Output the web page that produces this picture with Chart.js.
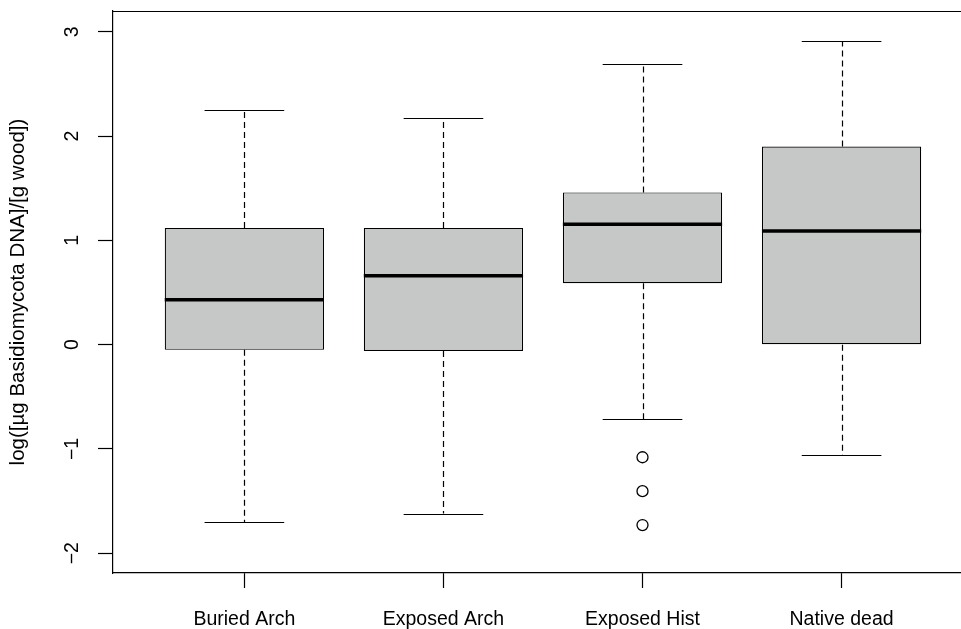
<!DOCTYPE html>
<html>
<head>
<meta charset="utf-8">
<script src="https://cdn.jsdelivr.net/npm/chart.js@4/dist/chart.umd.min.js"></script>
<style>
    html, body { margin: 0; padding: 0; background: #fff; overflow: hidden; }
    #wrap { width: 961px; height: 629px; position: relative; }
</style>
</head>
<body>
<div id="wrap"><canvas id="chart"></canvas></div>
<script>
const groups = ['Buried Arch', 'Exposed Arch', 'Exposed Hist', 'Native dead'];
const whiskerLow = [-1.70, -1.62, -0.715, -1.06];
const q1 = [-0.05, -0.06, 0.59, 0.0];
const median = [0.43, 0.66, 1.155, 1.09];
const q3 = [1.12, 1.12, 1.46, 1.90];
const whiskerHigh = [2.25, 2.17, 2.69, 2.91];
const outlierGroup = [3, 3, 3];
const outlierValues = [-1.08, -1.405, -1.73];
const yTicks = [-2, -1, 0, 1, 2, 3];

const fontFamily = "'Liberation Sans', Arial, Helvetica, sans-serif";
const fontSize = 19.5;
const titleSize = 20.5;

// whiskers, staples, medians, top frame line and rotated y labels
const boxExtras = {
    id: 'boxExtras',
    afterDatasetsDraw(chart) {
        const ctx = chart.ctx;
        const x = chart.scales.x;
        const y = chart.scales.y;
        ctx.save();
        ctx.strokeStyle = '#000';
        groups.forEach((g, i) => {
            const cx = Math.round(x.getPixelForValue(i + 1)) + 0.5;
            const capL = x.getPixelForValue(i + 1 - 0.2);
            const capR = x.getPixelForValue(i + 1 + 0.2);
            const boxL = x.getPixelForValue(i + 1 - 0.4);
            const boxR = x.getPixelForValue(i + 1 + 0.4);
            // dashed whiskers
            ctx.lineWidth = 1.2;
            ctx.setLineDash([6, 4]);
            ctx.beginPath();
            ctx.moveTo(cx, y.getPixelForValue(q3[i]));
            ctx.lineTo(cx, y.getPixelForValue(whiskerHigh[i]));
            ctx.moveTo(cx, y.getPixelForValue(q1[i]));
            ctx.lineTo(cx, y.getPixelForValue(whiskerLow[i]));
            ctx.stroke();
            // staples
            ctx.setLineDash([]);
            ctx.lineWidth = 1.2;
            ctx.beginPath();
            const yh = Math.round(y.getPixelForValue(whiskerHigh[i])) + 0.5;
            const yl = Math.round(y.getPixelForValue(whiskerLow[i])) + 0.5;
            ctx.moveTo(capL, yh);
            ctx.lineTo(capR, yh);
            ctx.moveTo(capL, yl);
            ctx.lineTo(capR, yl);
            ctx.stroke();
            // median
            ctx.lineWidth = 3.5;
            ctx.beginPath();
            const ym = y.getPixelForValue(median[i]);
            ctx.moveTo(boxL, ym);
            ctx.lineTo(boxR, ym);
            ctx.stroke();
        });
        // top frame
        const area = chart.chartArea;
        ctx.lineWidth = 1.2;
        ctx.beginPath();
        ctx.moveTo(area.left, Math.round(area.top) + 0.5);
        ctx.lineTo(chart.width, Math.round(area.top) + 0.5);
        ctx.stroke();
        // y tick labels, parallel to the axis like R
        ctx.fillStyle = '#000';
        ctx.font = fontSize + 'px ' + fontFamily;
        ctx.textAlign = 'center';
        ctx.textBaseline = 'middle';
        yTicks.forEach(t => {
            ctx.save();
            ctx.translate(72.5, y.getPixelForValue(t));
            ctx.rotate(-Math.PI / 2);
            ctx.fillText(t < 0 ? '\u2212' + Math.abs(t) : String(t), 0, 0);
            ctx.restore();
        });
        ctx.restore();
    }
};

new Chart(document.getElementById('chart'), {
    type: 'bar',
    data: {
        datasets: [{
            type: 'bar',
            data: groups.map((g, i) => ({ x: i + 1, y: [q1[i], q3[i]] })),
            backgroundColor: '#c6c8c7',
            borderColor: '#000',
            borderWidth: 1.2,
            borderSkipped: false,
            categoryPercentage: 0.8,
            barPercentage: 1.0
        }, {
            type: 'scatter',
            data: outlierValues.map((v, i) => ({ x: outlierGroup[i], y: v })),
            pointRadius: 5.5,
            pointBorderWidth: 1.3,
            pointBorderColor: '#000',
            pointBackgroundColor: 'rgba(0,0,0,0)'
        }]
    },
    options: {
        responsive: true,
        maintainAspectRatio: false,
        animation: false,
        layout: { autoPadding: false, padding: { top: 11, left: 0, right: 0, bottom: 0 } },
        plugins: {
            legend: { display: false },
            tooltip: { enabled: false }
        },
        scales: {
            x: {
                type: 'linear',
                offset: false,
                min: 0.34,
                max: 4.6,
                afterBuildTicks: scale => {
                    scale.ticks = groups.map((g, i) => ({ value: i + 1 }));
                },
                afterFit: scale => {
                    scale.height = 56;
                    scale.paddingLeft = 0;
                    scale.paddingRight = 0;
                },
                grid: {
                    offset: false,
                    drawOnChartArea: false,
                    drawTicks: true,
                    tickLength: 15,
                    tickColor: '#000',
                    tickWidth: 1.2
                },
                border: { display: true, color: '#000', width: 1.2 },
                ticks: {
                    autoSkip: false,
                    maxRotation: 0,
                    padding: 20,
                    color: '#000',
                    font: { family: fontFamily, size: fontSize },
                    callback: value => groups[value - 1]
                }
            },
            y: {
                type: 'linear',
                min: -2.19,
                max: 3.2,
                afterBuildTicks: scale => {
                    scale.ticks = yTicks.map(v => ({ value: v }));
                },
                afterFit: scale => { scale.width = 113; },
                grid: {
                    drawOnChartArea: false,
                    drawTicks: true,
                    tickLength: 15,
                    tickColor: '#000',
                    tickWidth: 1.2
                },
                border: { display: true, color: '#000', width: 1.2 },
                ticks: { display: false },
                title: {
                    display: true,
                    text: 'log([\u00b5g Basidiomycota DNA]/[g wood])',
                    color: '#000',
                    font: { family: fontFamily, size: titleSize },
                    padding: { top: 6, bottom: 0 }
                }
            }
        }
    },
    plugins: [boxExtras]
});
</script>
</body>
</html>
